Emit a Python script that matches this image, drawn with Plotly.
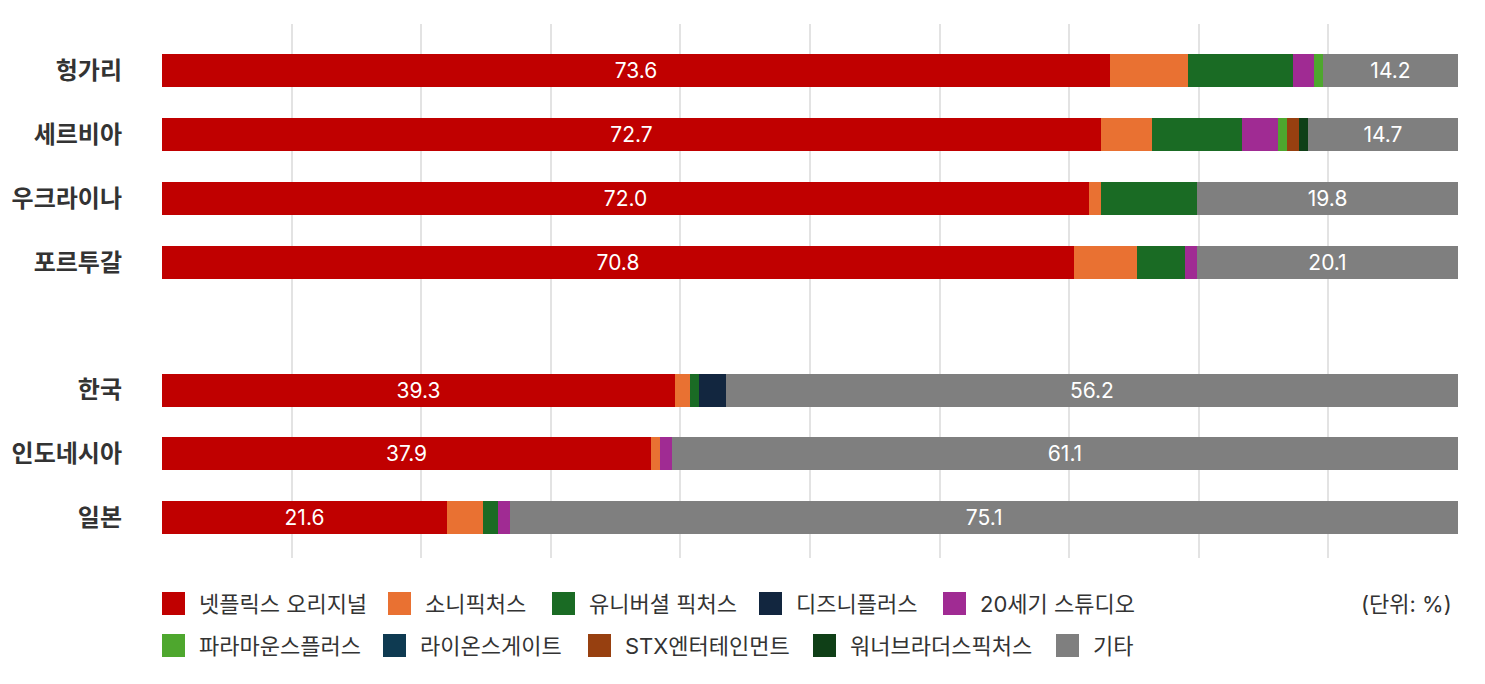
import plotly.graph_objects as go

# -----------------------------------------------------------------------------
# Data (share of top titles by distributor, %)
# -----------------------------------------------------------------------------
countries = ["헝가리", "세르비아", "우크라이나", "포르투갈", "", "한국", "인도네시아", "일본"]
slots = [0, 1, 2, 3, 4, 5, 6, 7]

companies = [
    "넷플릭스 오리지널", "소니픽처스", "유니버셜 픽처스", "디즈니플러스", "20세기 스튜디오",
    "파라마운스플러스", "라이온스게이트", "STX엔터테인먼트", "워너브라더스픽처스", "기타",
]
colors = [
    "#C00000", "#E97132", "#1A6B24", "#12263F", "#A02B93",
    "#4EA72E", "#0E3A51", "#974010", "#0F3F17", "#7F7F7F",
]

netflix   = [73.15, 72.45, 71.53, 70.37, None, 39.58, 37.73, 21.99]
sony      = [6.02, 3.94, 0.93, 4.86, None, 1.16, 0.69, 2.78]
universal = [8.10, 6.94, 7.41, 3.70, None, 0.69, 0, 1.16]
disney    = [0, 0, 0, 0, None, 2.08, 0, 0]
fox20     = [1.62, 2.78, 0, 0.93, None, 0, 0.93, 0.93]
paramount = [0.69, 0.69, 0, 0, None, 0, 0, 0]
lionsgate = [0, 0, 0, 0, None, 0, 0, 0]
stx       = [0, 0.93, 0, 0, None, 0, 0, 0]
warner    = [0, 0.69, 0, 0, None, 0, 0, 0]
others    = [10.42, 11.57, 20.14, 20.14, None, 56.48, 60.65, 73.15]

# labels printed on the bars
netflix_labels = ["73.6", "72.7", "72.0", "70.8", "", "39.3", "37.9", "21.6"]
others_labels  = ["14.2", "14.7", "19.8", "20.1", "", "56.2", "61.1", "75.1"]

series = [netflix, sony, universal, disney, fox20, paramount, lionsgate, stx, warner, others]

# Inter for latin/digits, Noto CJK for hangul (Pretendard-like)
FONT = "Inter, Noto Sans CJK KR"

# -----------------------------------------------------------------------------
# Layout geometry (page pixels; the html body adds an 8px offset)
# -----------------------------------------------------------------------------
W, H = 1485, 684
PAGE_OFF = 8
PLOT_L, PLOT_R, PLOT_T, PLOT_B = 162, 1458, 24, 558

def px_x(sx):
    return (sx - PLOT_L) / (PLOT_R - PLOT_L)

def px_y(sy):
    return (PLOT_B - sy) / (PLOT_B - PLOT_T)

# legend swatch left edges per row (two rows of five)
LEGEND_X = [162, 388, 552, 759, 943, 162, 383, 588, 813, 1056]
LEGEND_ROW_Y = [603.5, 645.5]
SWATCH = 23
TEXT_GAP = 35

fig = go.Figure()
for i, (name, vals, col) in enumerate(zip(companies, series, colors)):
    text = None
    if i == 0:
        text = netflix_labels
    elif i == len(series) - 1:
        text = others_labels
    fig.add_trace(
        go.Bar(
            x=vals,
            y=slots,
            orientation="h",
            name=name,
            marker=dict(color=col, line=dict(width=0)),
            width=0.517,
            text=text,
            textposition="inside" if text else "none",
            insidetextanchor="middle",
            textfont=dict(family=FONT, size=21, color="white"),
            showlegend=False,
        )
    )

# hand-drawn legend with large square swatches
shapes = []
annotations = []
for i, (name, col) in enumerate(zip(companies, colors)):
    sx = LEGEND_X[i]
    sy = LEGEND_ROW_Y[i // 5]
    shapes.append(dict(
        type="rect", xref="paper", yref="paper",
        x0=px_x(sx), x1=px_x(sx + SWATCH),
        y0=px_y(sy + SWATCH / 2), y1=px_y(sy - SWATCH / 2),
        fillcolor=col, line=dict(width=0),
    ))
    annotations.append(dict(
        text=name, xref="paper", yref="paper",
        x=px_x(sx + TEXT_GAP), y=px_y(sy), xanchor="left", yanchor="middle",
        showarrow=False, font=dict(family=FONT, size=22, color="#333333"),
    ))

annotations.append(dict(
    text="(단위: %)", xref="paper", yref="paper", x=px_x(1454), y=px_y(604),
    xanchor="right", yanchor="middle", showarrow=False,
    font=dict(family=FONT, size=22, color="#333333"),
))

fig.update_layout(
    width=W,
    height=H,
    barmode="stack",
    plot_bgcolor="white",
    paper_bgcolor="white",
    margin=dict(
        l=PLOT_L - PAGE_OFF, r=W - (PLOT_R - PAGE_OFF),
        t=PLOT_T - PAGE_OFF, b=H - (PLOT_B - PAGE_OFF), autoexpand=False,
    ),
    font=dict(family=FONT, color="#333333"),
    showlegend=False,
    shapes=shapes,
    annotations=annotations,
)

fig.update_xaxes(
    range=[0, 100], dtick=10, showgrid=True, gridcolor="#E3E3E3", gridwidth=2,
    showticklabels=False, zeroline=False, showline=False, fixedrange=True,
    automargin=False,
)
fig.update_yaxes(
    range=[7.63, -0.73], tickvals=slots, ticktext=[f"<b>{c}</b>" for c in countries],
    tickfont=dict(family=FONT, size=24, color="#333333"), showgrid=False,
    zeroline=False, ticks="", ticklabelstandoff=39, automargin=False,
)

fig.write_html("out.html")
